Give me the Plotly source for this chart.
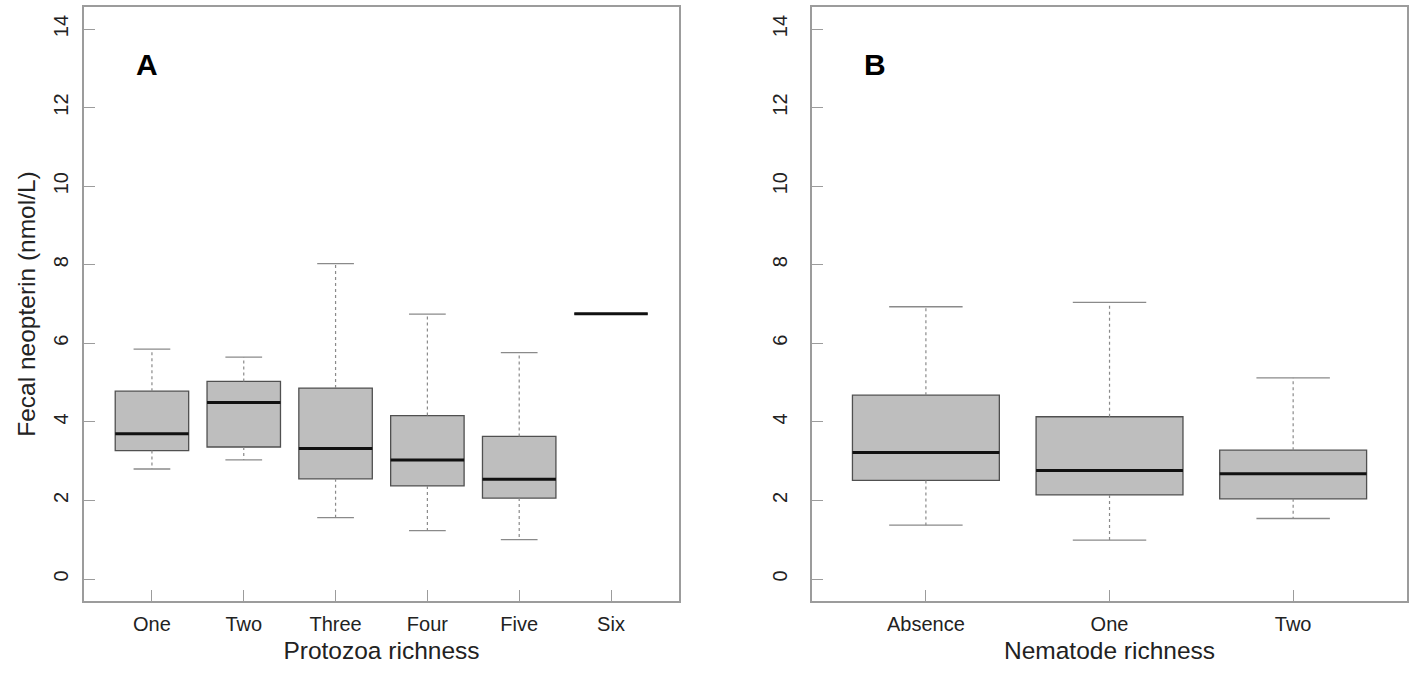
import plotly.graph_objects as go

# Panel A: Protozoa richness
a_labels = ["One", "Two", "Three", "Four", "Five", "Six"]
a_lower = [2.80, 3.03, 1.56, 1.23, 1.00, 6.75]
a_q1 = [3.27, 3.36, 2.55, 2.37, 2.06, 6.75]
a_median = [3.70, 4.49, 3.32, 3.03, 2.54, 6.75]
a_q3 = [4.78, 5.03, 4.86, 4.16, 3.63, 6.75]
a_upper = [5.85, 5.65, 8.03, 6.74, 5.76, 6.75]

# Panel B: Nematode richness
b_labels = ["Absence", "One", "Two"]
b_lower = [1.37, 0.99, 1.54]
b_q1 = [2.51, 2.14, 2.04]
b_median = [3.22, 2.76, 2.68]
b_q3 = [4.68, 4.13, 3.28]
b_upper = [6.93, 7.04, 5.12]

y_ticks = [0, 2, 4, 6, 8, 10, 12, 14]

FONT = "Liberation Sans, Arial, sans-serif"
BOX_FILL = "#bebebe"
BOX_LINE = "#505050"
WHISK = "#8a8a8a"
FRAME = "#9c9c9c"
TXT = "#222222"
BOXW = 0.8
CAPW = 0.4

fig = go.Figure()


def add_panel(labels, lower, q1, med, q3, upper, xa, ya):
    pos = list(range(1, len(labels) + 1))
    # whiskers (dotted)
    wx, wy = [], []
    for p, lo, a, b, up in zip(pos, lower, q1, q3, upper):
        if up > b:
            wx += [p, p, None]
            wy += [b, up, None]
        if lo < a:
            wx += [p, p, None]
            wy += [a, lo, None]
    fig.add_trace(go.Scatter(x=wx, y=wy, mode="lines", xaxis=xa, yaxis=ya,
                             line=dict(color=WHISK, width=1.2, dash="dot"),
                             hoverinfo="skip", showlegend=False))
    # caps
    cx, cy = [], []
    for p, lo, up, a, b in zip(pos, lower, upper, q1, q3):
        if up > b:
            cx += [p - CAPW / 2, p + CAPW / 2, None]
            cy += [up, up, None]
        if lo < a:
            cx += [p - CAPW / 2, p + CAPW / 2, None]
            cy += [lo, lo, None]
    fig.add_trace(go.Scatter(x=cx, y=cy, mode="lines", xaxis=xa, yaxis=ya,
                             line=dict(color=WHISK, width=1.3),
                             hoverinfo="skip", showlegend=False))
    # boxes (no plotly whiskers: fences at quartiles)
    fig.add_trace(go.Box(x=pos, q1=q1, median=med, q3=q3,
                         lowerfence=q1, upperfence=q3,
                         width=BOXW, whiskerwidth=0,
                         fillcolor=BOX_FILL, line=dict(color=BOX_LINE, width=1.3),
                         xaxis=xa, yaxis=ya, showlegend=False, hoverinfo="skip"))
    # medians (thick black)
    mx, my = [], []
    for p, m in zip(pos, med):
        mx += [p - BOXW / 2, p + BOXW / 2, None]
        my += [m, m, None]
    fig.add_trace(go.Scatter(x=mx, y=my, mode="lines", xaxis=xa, yaxis=ya,
                             line=dict(color="#111111", width=3),
                             hoverinfo="skip", showlegend=False))


add_panel(a_labels, a_lower, a_q1, a_median, a_q3, a_upper, "x", "y")
add_panel(b_labels, b_lower, b_q1, b_median, b_q3, b_upper, "x2", "y2")

axis_common = dict(showline=True, mirror=True, linecolor=FRAME, linewidth=1.5,
                   ticks="inside", ticklen=11, tickcolor=FRAME, tickwidth=1.3,
                   showgrid=False, zeroline=False,
                   tickfont=dict(family=FONT, size=20, color=TXT))


def xr(n):
    ext = n * 0.04
    return [0.5 - ext, n + 0.5 + ext]


TITLE_FONT = dict(family=FONT, size=24.5, color=TXT)

fig.update_layout(
    width=1418, height=673,
    margin=dict(l=84, r=11, t=5, b=72),
    paper_bgcolor="white", plot_bgcolor="white",
    showlegend=False,
    xaxis=dict(domain=[0, 0.4497], range=xr(len(a_labels)),
               tickvals=list(range(1, len(a_labels) + 1)), ticktext=a_labels,
               ticklabelstandoff=4,
               title=dict(text="Protozoa richness", standoff=8, font=TITLE_FONT),
               **axis_common),
    yaxis=dict(domain=[0, 1], range=[-0.56, 14.56], tickvals=y_ticks,
               tickangle=-90, ticklabelstandoff=6,
               title=dict(text="Fecal neopterin (nmol/L)", standoff=8, font=TITLE_FONT),
               **axis_common),
    xaxis2=dict(domain=[0.5503, 1], range=xr(len(b_labels)), anchor="y2",
                tickvals=list(range(1, len(b_labels) + 1)), ticktext=b_labels,
                ticklabelstandoff=4,
                title=dict(text="Nematode richness", standoff=8, font=TITLE_FONT),
                **axis_common),
    yaxis2=dict(domain=[0, 1], range=[-0.56, 14.56], tickvals=y_ticks, anchor="x2",
                tickangle=-90, ticklabelstandoff=15,
                **axis_common),
    annotations=[
        dict(text="<b>A</b>", x=0.106, y=0.903, xref="x domain", yref="y domain",
             xanchor="center", yanchor="middle",
             showarrow=False, font=dict(family=FONT, size=30, color="black")),
        dict(text="<b>B</b>", x=0.106, y=0.903, xref="x2 domain", yref="y2 domain",
             xanchor="center", yanchor="middle",
             showarrow=False, font=dict(family=FONT, size=30, color="black")),
    ],
)

fig.write_html("out.html", config={"displayModeBar": False},
               post_script="document.body.style.margin='0';")
